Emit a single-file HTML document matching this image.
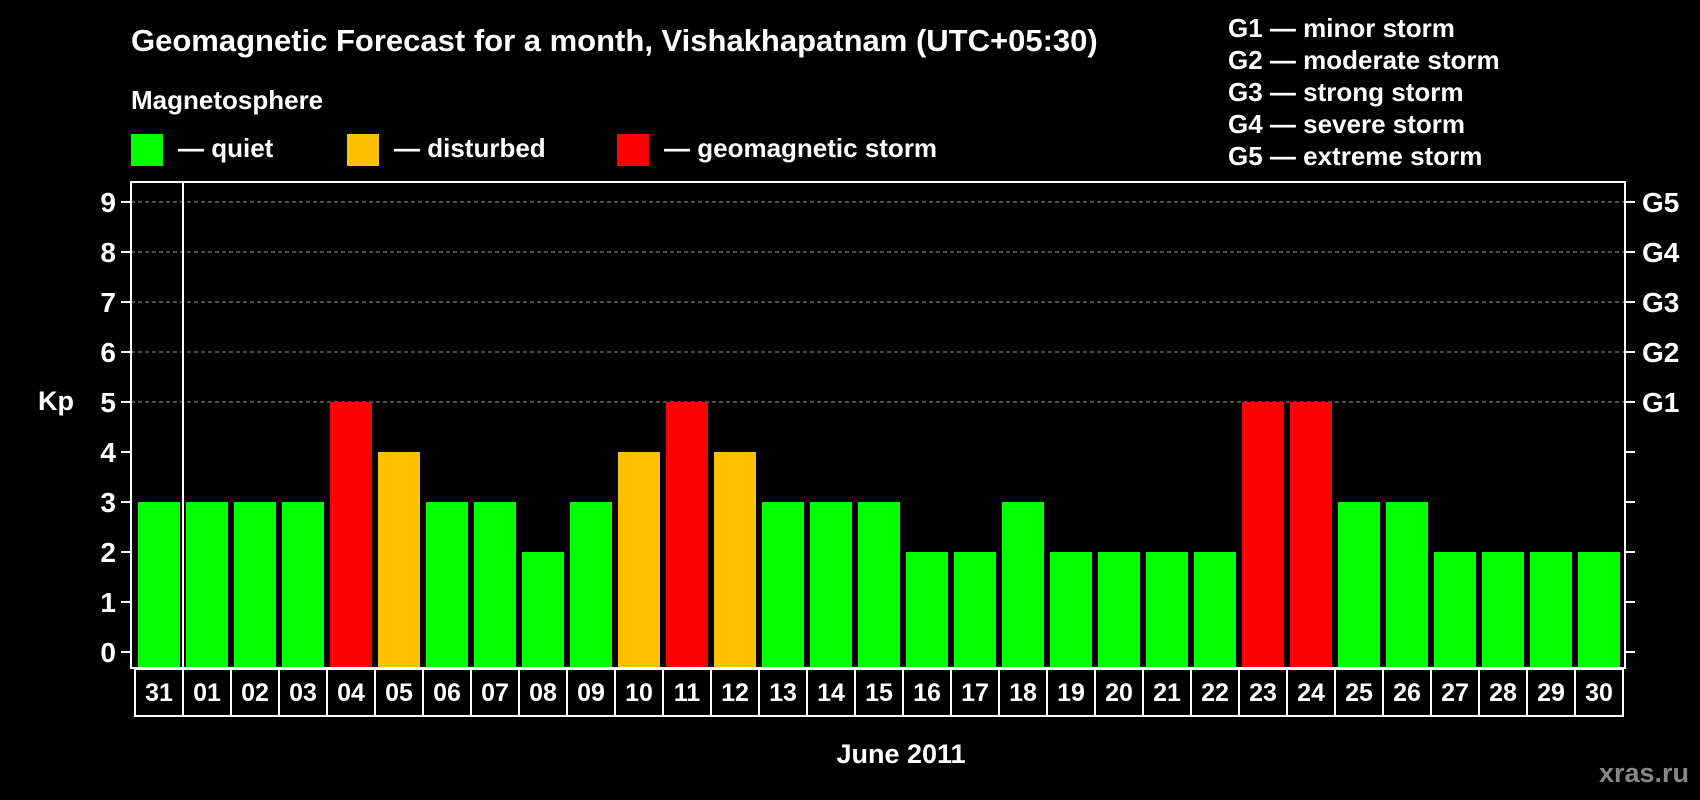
<!DOCTYPE html>
<html><head><meta charset="utf-8"><style>
html,body{margin:0;padding:0;background:#000;}
svg{display:block;font-family:"Liberation Sans",Arial,sans-serif;font-weight:bold;}
</style></head><body>
<svg id="c" width="1700" height="800" viewBox="0 0 1700 800">
<rect width="1700" height="800" fill="#000"/>
<text x="131" y="51" fill="#fff" font-size="31">Geomagnetic Forecast for a month, Vishakhapatnam (UTC+05:30)</text>
<text x="131" y="109" fill="#fff" font-size="26">Magnetosphere</text>
<rect x="131" y="134" width="32" height="32" fill="#00ff00"/>
<text x="178" y="157" fill="#fff" font-size="26">— quiet</text>
<rect x="347" y="134" width="32" height="32" fill="#ffc000"/>
<text x="394" y="157" fill="#fff" font-size="26">— disturbed</text>
<rect x="617" y="134" width="32" height="32" fill="#ff0000"/>
<text x="664" y="157" fill="#fff" font-size="26">— geomagnetic storm</text>
<g fill="#fff" font-size="26">
<text x="1228" y="37">G1 — minor storm</text>
<text x="1228" y="69">G2 — moderate storm</text>
<text x="1228" y="101">G3 — strong storm</text>
<text x="1228" y="133">G4 — severe storm</text>
<text x="1228" y="165">G5 — extreme storm</text>
</g>
<text x="56" y="410" fill="#fff" font-size="27" text-anchor="middle">Kp</text>
<text x="901" y="763" fill="#fff" font-size="27" text-anchor="middle">June 2011</text>
<text x="1689" y="782" fill="#888" font-size="27" text-anchor="end">xras.ru</text>
<g id="plot"></g>
</svg>
<script>
const days = ["31","01","02","03","04","05","06","07","08","09","10","11","12","13","14","15","16","17","18","19","20","21","22","23","24","25","26","27","28","29","30"];
const kpValues = [3,3,3,3,5,4,3,3,2,3,4,5,4,3,3,3,2,2,3,2,2,2,2,5,5,3,3,2,2,2,2];
const yTicks = [0,1,2,3,4,5,6,7,8,9];
const gLabels = ["G1","G2","G3","G4","G5"];
const gLevels = [5,6,7,8,9];

const NS = "http://www.w3.org/2000/svg";
const g = document.getElementById('plot');
const L = 131, R = 1625, T = 182, B = 668;
const boxX0 = 135, step = 48;
const y = v => 652 - v * 50;
const x = i => boxX0 + i * step;
function mk(tag, attrs, parent) {
  const e = document.createElementNS(NS, tag);
  for (const k in attrs) e.setAttribute(k, attrs[k]);
  (parent || g).appendChild(e);
  return e;
}
function color(v) { return v >= 5 ? "#ff0000" : (v >= 4 ? "#ffc000" : "#00ff00"); }

gLevels.forEach(v => {
  const e = mk('line', {x1: L, x2: R, y1: y(v), y2: y(v), stroke: "#999", "stroke-width": 1, "stroke-dasharray": "4,3"});
  
  
});
kpValues.forEach((v, i) => {
  const e = mk('rect', {x: x(i) + 3, y: y(v), width: 42, height: B - y(v), fill: color(v)});
  
  
});
const fr = mk('rect', {x: L, y: T, width: R - L, height: B - T, fill: "none", stroke: "#fff", "stroke-width": 2});


const sep = mk('line', {x1: 183, x2: 183, y1: T, y2: B, stroke: "#fff", "stroke-width": 2});


yTicks.forEach(v => {
  const t = mk('line', {x1: 121, x2: L, y1: y(v), y2: y(v), stroke: "#fff", "stroke-width": 2});
  
  
  const t2 = mk('line', {x1: R, x2: 1635, y1: y(v), y2: y(v), stroke: "#fff", "stroke-width": 2});
  
  
  const lb = mk('text', {x: 116, y: y(v) + 10, fill: "#fff", "font-size": 28, "text-anchor": "end"});
  lb.textContent = v;
  
  
});
gLabels.forEach((s, i) => {
  const lb = mk('text', {x: 1642, y: y(gLevels[i]) + 10, fill: "#fff", "font-size": 28});
  lb.textContent = s;
  
  
});
days.forEach((d, i) => {
  const r = mk('rect', {x: x(i), y: 669, width: step, height: 47, fill: "none", stroke: "#fff", "stroke-width": 2});
  
  
  const t = mk('text', {x: x(i) + step / 2, y: 701, fill: "#fff", "font-size": 25, "text-anchor": "middle"});
  t.textContent = d;
  
  
});
</script>
</body></html>
